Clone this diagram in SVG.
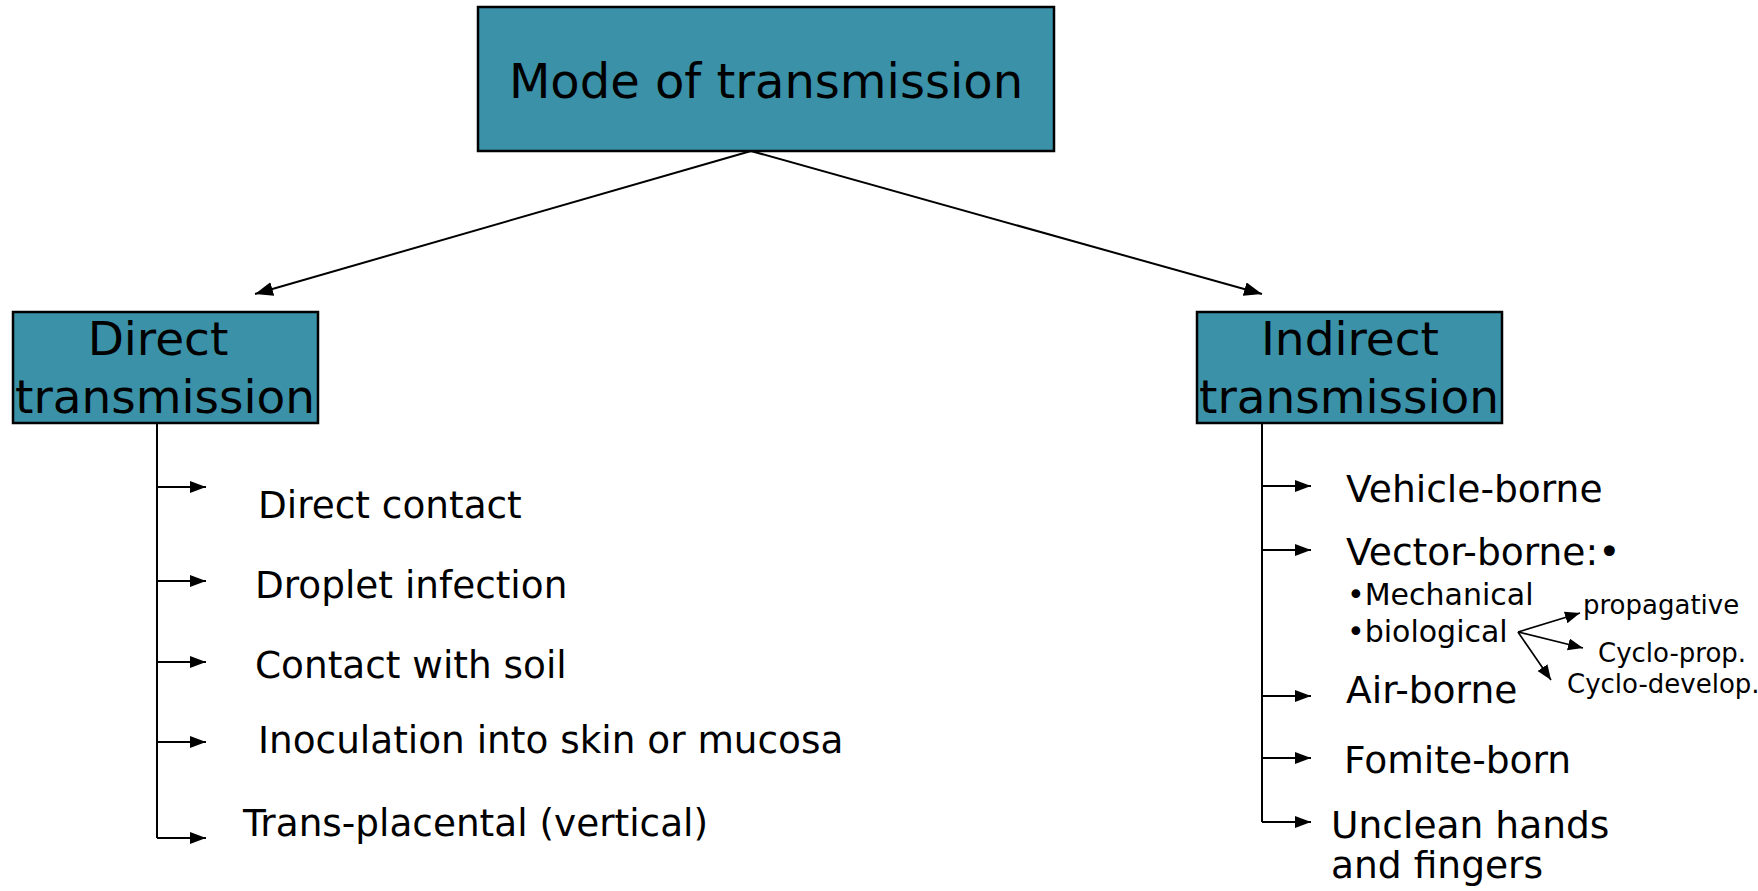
<svg xmlns="http://www.w3.org/2000/svg" width="1758" height="891" viewBox="0 0 1758 891">
<style>
.box{fill:#3A91A8;stroke:#000;stroke-width:2.5}
.t{font-family:"DejaVu Sans","Liberation Sans",sans-serif;fill:#000}
.ln{stroke:#000;stroke-width:2;fill:none}
.sm{stroke:#000;stroke-width:1.7;fill:none}
</style>
<defs>
<marker id="big" markerUnits="userSpaceOnUse" markerWidth="19" markerHeight="15" refX="18" refY="7" orient="auto"><path d="M0,0 L18,7 L0,14 z" fill="#000"/></marker>
<marker id="arr" markerUnits="userSpaceOnUse" markerWidth="17" markerHeight="13" refX="16" refY="6" orient="auto"><path d="M0,0 L16,6 L0,12 z" fill="#000"/></marker>
<marker id="tiny" markerUnits="userSpaceOnUse" markerWidth="16" markerHeight="13" refX="15" refY="6" orient="auto"><path d="M0,0 L15,6 L0,12 z" fill="#000"/></marker>
</defs>
<rect width="1758" height="891" fill="#fff"/>
<g id="connectors">
<line class="ln" x1="751" y1="151" x2="255" y2="294" marker-end="url(#big)"/>
<line class="ln" x1="751" y1="151" x2="1262" y2="294" marker-end="url(#big)"/>
<path class="ln" d="M157,423 V838"/>
<line class="ln" x1="157" y1="487" x2="206" y2="487" marker-end="url(#arr)"/>
<line class="ln" x1="157" y1="581" x2="206" y2="581" marker-end="url(#arr)"/>
<line class="ln" x1="157" y1="662" x2="206" y2="662" marker-end="url(#arr)"/>
<line class="ln" x1="157" y1="742" x2="206" y2="742" marker-end="url(#arr)"/>
<line class="ln" x1="157" y1="838" x2="206" y2="838" marker-end="url(#arr)"/>
<path class="ln" d="M1262,423 V822"/>
<line class="ln" x1="1262" y1="486" x2="1311" y2="486" marker-end="url(#arr)"/>
<line class="ln" x1="1262" y1="550" x2="1311" y2="550" marker-end="url(#arr)"/>
<line class="ln" x1="1262" y1="696" x2="1311" y2="696" marker-end="url(#arr)"/>
<line class="ln" x1="1262" y1="758" x2="1311" y2="758" marker-end="url(#arr)"/>
<line class="ln" x1="1262" y1="822" x2="1311" y2="822" marker-end="url(#arr)"/>
<line class="sm" x1="1518" y1="632" x2="1580" y2="613" marker-end="url(#tiny)"/>
<line class="sm" x1="1518" y1="632" x2="1583" y2="648" marker-end="url(#tiny)"/>
<line class="sm" x1="1518" y1="632" x2="1551" y2="680" marker-end="url(#tiny)"/>
</g>
<g id="mode">
<rect class="box" x="478" y="7" width="576" height="144"/>
<text class="t" x="766" y="98" font-size="48" text-anchor="middle">Mode of transmission</text>
</g>
<g id="direct">
<rect class="box" x="13" y="312" width="305" height="111"/>
<text class="t" x="158" y="355" font-size="47" text-anchor="middle">Direct</text>
<text class="t" x="15" y="413" font-size="47" textLength="300" lengthAdjust="spacingAndGlyphs">transmission</text>
</g>
<g id="indirect">
<rect class="box" x="1197" y="312" width="305" height="111"/>
<text class="t" x="1350" y="355" font-size="47" text-anchor="middle">Indirect</text>
<text class="t" x="1199" y="413" font-size="47" textLength="300" lengthAdjust="spacingAndGlyphs">transmission</text>
</g>
<g id="direct-items" class="t" font-size="37.4">
<text x="258" y="518">Direct contact</text>
<text x="255" y="598">Droplet infection</text>
<text x="255" y="678">Contact with soil</text>
<text x="258" y="753">Inoculation into skin or mucosa</text>
<text x="243" y="836">Trans-placental (vertical)</text>
</g>
<g id="indirect-items" class="t">
<text x="1346" y="502" font-size="37.6">Vehicle-borne</text>
<text x="1346" y="565" font-size="37.6">Vector-borne:•</text>
<text x="1347" y="605" font-size="30">•Mechanical</text>
<text x="1347" y="642" font-size="30">•biological</text>
<text x="1583" y="614" font-size="26">propagative</text>
<text x="1598" y="662" font-size="26">Cyclo-prop.</text>
<text x="1567" y="693" font-size="26">Cyclo-develop.</text>
<text x="1346" y="703" font-size="37.6">Air-borne</text>
<text x="1344" y="773" font-size="37.6">Fomite-born</text>
<text x="1331" y="838" font-size="37.6">Unclean hands</text>
<text x="1331" y="878" font-size="37.6">and fingers</text>
</g>
</svg>
